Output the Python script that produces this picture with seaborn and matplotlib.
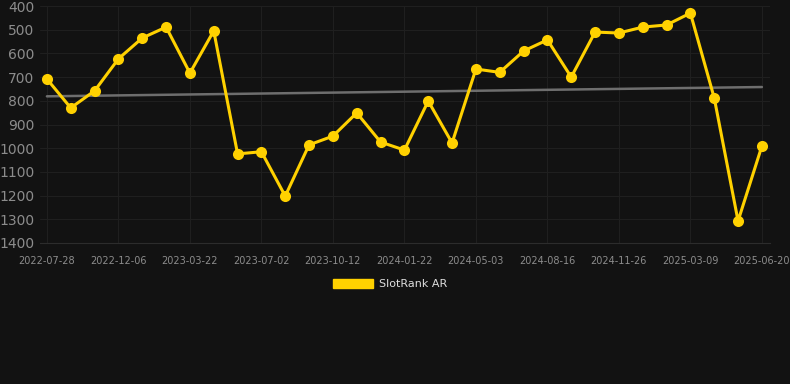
import numpy as np
import pandas as pd
import matplotlib
matplotlib.use("Agg")
import matplotlib.pyplot as plt
from matplotlib.patches import Patch
import seaborn as sns

dates = [
    "2022-07-28", "2022-09-10", "2022-10-24", "2022-12-06", "2023-01-10", "2023-02-14",
    "2023-03-22", "2023-04-25", "2023-05-29", "2023-07-02", "2023-08-05", "2023-09-08",
    "2023-10-12", "2023-11-15", "2023-12-19", "2024-01-22", "2024-02-25", "2024-03-30",
    "2024-05-03", "2024-06-07", "2024-07-12", "2024-08-16", "2024-09-19", "2024-10-23",
    "2024-11-26", "2024-12-30", "2025-02-02", "2025-03-09", "2025-04-12", "2025-05-16",
    "2025-06-20",
]
ranks = [
    708, 830, 758, 623, 535, 489, 683, 505, 1024, 1015,
    1202, 986, 949, 851, 974, 1008, 801, 978, 666, 680,
    590, 543, 700, 510, 514, 489, 480, 430, 788, 1307, 991,
]
series_name = "SlotRank AR"
y_ticks = [400, 500, 600, 700, 800, 900, 1000, 1100, 1200, 1300, 1400]

df = pd.DataFrame({"idx": np.arange(len(dates)), "date": dates, "rank": ranks})

bg = "#121212"
gold = "#FFD100"
sns.set_theme(style="dark")
plt.rcParams["font.family"] = ["DejaVu Sans"]

fig = plt.figure(figsize=(7.9, 3.84), dpi=100, facecolor=bg)
ax = fig.add_axes([40 / 790, 1 - 243 / 384, 730 / 790, 237 / 384])
ax.set_facecolor(bg)

# trend line
sns.regplot(data=df, x="idx", y="rank", ax=ax, scatter=False, ci=None, truncate=True,
            line_kws={"color": "#6e6e6e", "lw": 1.8, "zorder": 2})

sns.lineplot(data=df, x="idx", y="rank", ax=ax, color=gold, lw=2.2, marker="o",
             markersize=8, markeredgewidth=0, markerfacecolor=gold, zorder=3)

ax.set_ylim(1400, 400)
ax.set_xlim(-0.29, 30.34)
ax.set_yticks(y_ticks)
ax.set_yticklabels([str(v) for v in y_ticks])
tick_idx = list(range(0, len(dates), 3))
ax.set_xticks(tick_idx)
ax.set_xticklabels([dates[i] for i in tick_idx])
ax.tick_params(axis="y", length=0, pad=4, labelsize=10, labelcolor="#8c8c8c")
ax.tick_params(axis="x", length=0, pad=9, labelsize=7, labelcolor="#8c8c8c")
ax.set_xlabel("")
ax.set_ylabel("")
ax.grid(True, color="#1f1f1f", lw=0.8)
ax.set_axisbelow(True)
for s in ["top", "right", "left"]:
    ax.spines[s].set_visible(False)
ax.spines["bottom"].set_color("#2c2c2c")
ax.spines["bottom"].set_linewidth(0.8)

handle = Patch(facecolor=gold, edgecolor=gold)
leg = fig.legend([handle], [series_name], loc="center", bbox_to_anchor=(390 / 790, 1 - 284 / 384),
                 frameon=False, handlelength=3.6, handleheight=0.9, handletextpad=0.55,
                 fontsize=8, labelcolor="#dddddd")

fig.savefig("out.png", dpi=100, facecolor=bg)
